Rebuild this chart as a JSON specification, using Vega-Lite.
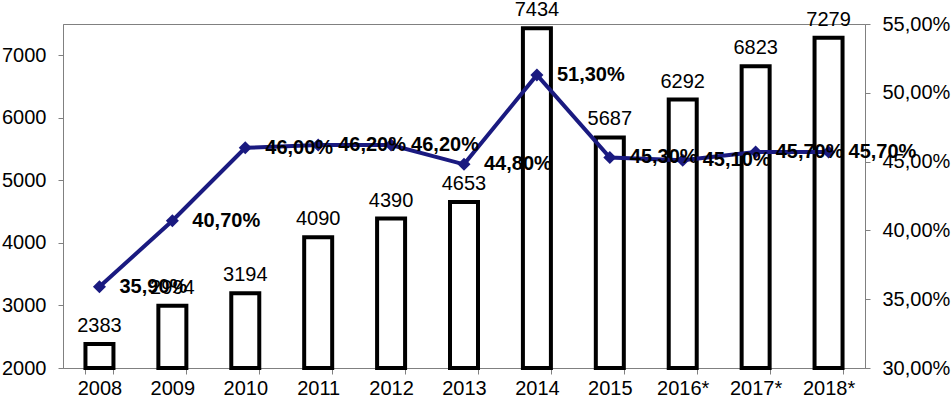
{
  "$schema": "https://vega.github.io/schema/vega-lite/v6.json",
  "width": 802,
  "height": 344,
  "autosize": {"type": "none"},
  "padding": {"left": 63, "top": 24, "right": 87, "bottom": 33},
  "background": "white",
  "config": {
    "view": {"stroke": "#808080", "strokeWidth": 1},
    "font": "Liberation Sans",
    "locale": {"number": {"decimal": ",", "thousands": "", "grouping": [3], "currency": ["", "€"]}},
    "axis": {
      "labelFont": "Liberation Sans",
      "labelFontSize": 20,
      "labelColor": "black",
      "domainColor": "#808080",
      "tickColor": "#808080",
      "grid": false,
      "title": null
    }
  },
  "data": {
    "values": [
      {"year": "2008", "value": 2383, "share": 0.359},
      {"year": "2009", "value": 2994, "share": 0.407},
      {"year": "2010", "value": 3194, "share": 0.460},
      {"year": "2011", "value": 4090, "share": 0.462},
      {"year": "2012", "value": 4390, "share": 0.462},
      {"year": "2013", "value": 4653, "share": 0.448},
      {"year": "2014", "value": 7434, "share": 0.513},
      {"year": "2015", "value": 5687, "share": 0.453},
      {"year": "2016*", "value": 6292, "share": 0.451},
      {"year": "2017*", "value": 6823, "share": 0.457},
      {"year": "2018*", "value": 7279, "share": 0.457}
    ]
  },
  "encoding": {
    "x": {
      "field": "year",
      "type": "nominal",
      "sort": null,
      "scale": {"paddingInner": 0.616, "paddingOuter": 0.308},
      "axis": {"labelAngle": 0, "tickBand": "extent", "tickSize": 6, "labelPadding": 4, "domainColor": "#808080"}
    }
  },
  "layer": [
    {
      "encoding": {
        "y": {
          "field": "value",
          "type": "quantitative",
          "scale": {"domain": [2000, 7500], "zero": false, "nice": false},
          "axis": {"orient": "left", "values": [2000, 3000, 4000, 5000, 6000, 7000], "format": "d", "tickSize": 5, "labelPadding": 12}
        }
      },
      "layer": [
        {
          "mark": {"type": "bar", "fill": "white", "stroke": "black", "strokeWidth": 4},
          "encoding": {"y2": {"datum": 2000}}
        },
        {
          "mark": {"type": "text", "dy": -12, "baseline": "alphabetic", "fontSize": 20, "color": "black"},
          "encoding": {"text": {"field": "value", "type": "quantitative", "format": "d"}}
        }
      ]
    },
    {
      "encoding": {
        "y": {
          "field": "share",
          "type": "quantitative",
          "scale": {"domain": [0.30, 0.55], "zero": false, "nice": false},
          "axis": {"orient": "right", "values": [0.30, 0.35, 0.40, 0.45, 0.50, 0.55], "format": ".2%", "tickSize": 5, "labelPadding": 12}
        }
      },
      "layer": [
        {"mark": {"type": "line", "color": "#1a1a80", "strokeWidth": 4}},
        {"mark": {"type": "point", "shape": "diamond", "filled": true, "size": 170, "color": "#1a1a80", "opacity": 1}},
        {
          "mark": {"type": "text", "align": "left", "baseline": "middle", "dx": 20, "fontSize": 20, "fontWeight": "bold", "color": "black"},
          "encoding": {"text": {"field": "share", "type": "quantitative", "format": ".2%"}}
        }
      ]
    }
  ],
  "resolve": {"scale": {"y": "independent"}}
}
